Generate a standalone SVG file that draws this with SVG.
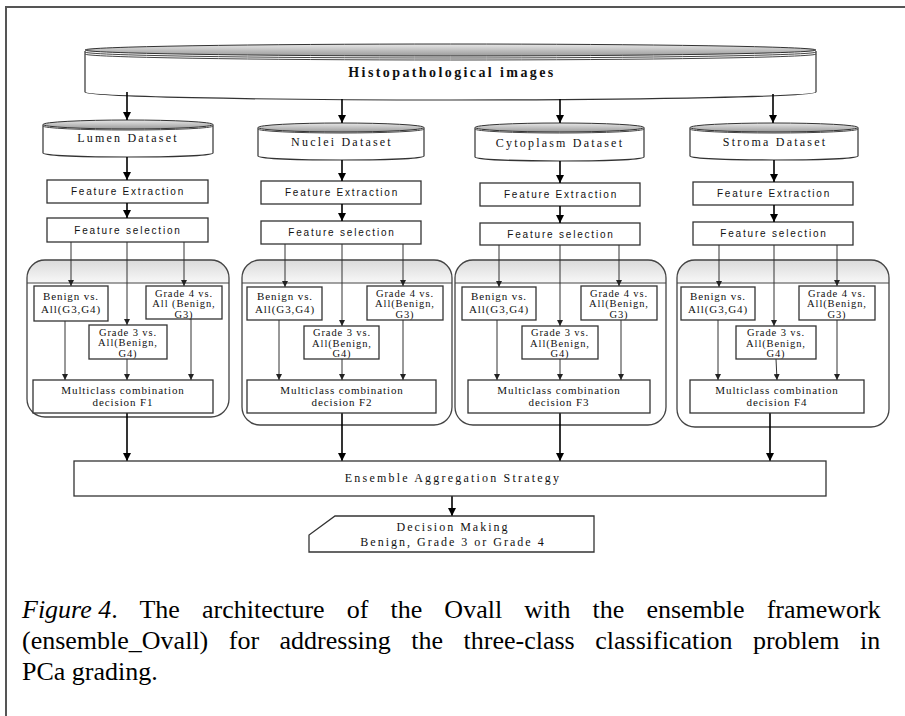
<svg xmlns="http://www.w3.org/2000/svg" width="905" height="716" viewBox="0 0 905 716">
<style>
.cb{fill:#fff;stroke:#333;stroke-width:1.2}
.ct{fill:url(#gTop);stroke:#333;stroke-width:1}
.lip{fill:none;stroke:#444;stroke-width:1}
.box{fill:#fff;stroke:#333;stroke-width:1.3}
.pan{fill:none;stroke:#444;stroke-width:1.3}
.hdr{fill:url(#gHdr);stroke:none}
.hl{stroke:#444;stroke-width:1}
.serif{font-family:"Liberation Serif","Times New Roman",serif;fill:#111}
.sans{font-family:"Liberation Sans",Arial,sans-serif;fill:#111}
.ds{font-size:12px;letter-spacing:2.2px}
.fe{font-size:10px;letter-spacing:1.8px}
.bt{font-size:11px;letter-spacing:0.9px}
.bt3{font-size:10.5px;letter-spacing:0.9px}
.arr{stroke:#000;stroke-width:1.6;fill:none;marker-end:url(#ah)}
.thin{stroke:#333;stroke-width:1;fill:none;marker-end:url(#ah2)}
.cap{font-family:"Liberation Serif","Times New Roman",serif;font-size:26px;fill:#000}
</style>
<defs>
<linearGradient id="gTop" x1="0" y1="0" x2="0" y2="1">
<stop offset="0" stop-color="#e8e8e8"/><stop offset="1" stop-color="#9a9a9a"/>
</linearGradient>
<linearGradient id="gHdr" x1="0" y1="0" x2="0" y2="1">
<stop offset="0" stop-color="#dadada"/><stop offset="1" stop-color="#f8f8f8"/>
</linearGradient>
<marker id="ah" markerUnits="userSpaceOnUse" markerWidth="8" markerHeight="8" refX="8" refY="4" orient="auto">
<path d="M0,0 L8,4 L0,8 Z" fill="#000"/>
</marker>
<marker id="ah2" markerUnits="userSpaceOnUse" markerWidth="6" markerHeight="6" refX="6" refY="3" orient="auto">
<path d="M0,0 L6,3 L0,6 Z" fill="#222"/>
</marker>
</defs>
<rect x="0" y="0" width="905" height="716" fill="#fff"/>
<path d="M6,716 L6,7 L905,7" fill="none" stroke="#555" stroke-width="2"/>

<g id="histo">
<path class="cb" d="M85,51 L85,92 A365.5,8 0 0 0 816,92 L816,51"/>
<ellipse class="ct" cx="450.5" cy="50" rx="365.5" ry="6"/>
<path class="lip" d="M85,52 A365.5,6 0 0 0 816,52"/>
<path class="lip" d="M85,54 A365.5,6 0 0 0 816,54"/>
<text class="serif" x="452" y="77" font-size="14" font-weight="bold" letter-spacing="2.4" text-anchor="middle">Histopathological images</text>
</g>

<g id="lumen-dataset">
<path class="cb" d="M43,125 L43,153 A85,4 0 0 0 213,153 L213,125"/>
<ellipse class="ct" cx="128" cy="124.5" rx="85" ry="4.5"/>
<path class="lip" d="M43,126 A85,4 0 0 0 213,126"/>
<text class="serif ds" x="128" y="142" text-anchor="middle">Lumen Dataset</text>
</g>
<g id="nuclei-dataset">
<path class="cb" d="M258,128 L258,156 A83,4 0 0 0 424,156 L424,128"/>
<ellipse class="ct" cx="341" cy="127.5" rx="83" ry="4.5"/>
<path class="lip" d="M258,129 A83,4 0 0 0 424,129"/>
<text class="serif ds" x="342" y="146" text-anchor="middle">Nuclei Dataset</text>
</g>
<g id="cytoplasm-dataset">
<path class="cb" d="M475,128 L475,157 A84.5,4 0 0 0 644,157 L644,128"/>
<ellipse class="ct" cx="559.5" cy="127.5" rx="84.5" ry="4.5"/>
<path class="lip" d="M475,129 A84.5,4 0 0 0 644,129"/>
<text class="serif ds" x="560" y="147" text-anchor="middle">Cytoplasm Dataset</text>
</g>
<g id="stroma-dataset">
<path class="cb" d="M690,128 L690,156 A84,4 0 0 0 858,156 L858,128"/>
<ellipse class="ct" cx="774" cy="127.5" rx="84" ry="4.5"/>
<path class="lip" d="M690,129 A84,4 0 0 0 858,129"/>
<text class="serif ds" x="775" y="146" text-anchor="middle">Stroma Dataset</text>
</g>

<g id="fe-1"><rect class="box" x="47" y="180" width="161" height="23"/><text class="sans fe" x="128" y="195" text-anchor="middle">Feature Extraction</text></g>
<g id="fs-1"><rect class="box" x="47" y="218" width="161" height="24"/><text class="sans fe" x="128" y="234" text-anchor="middle">Feature selection</text></g>
<g id="fe-2"><rect class="box" x="261" y="181" width="160" height="23"/><text class="sans fe" x="342" y="196" text-anchor="middle">Feature Extraction</text></g>
<g id="fs-2"><rect class="box" x="261" y="221" width="160" height="23"/><text class="sans fe" x="342" y="236" text-anchor="middle">Feature selection</text></g>
<g id="fe-3"><rect class="box" x="480" y="183" width="160" height="23"/><text class="sans fe" x="561" y="198" text-anchor="middle">Feature Extraction</text></g>
<g id="fs-3"><rect class="box" x="480" y="223" width="160" height="22"/><text class="sans fe" x="561" y="238" text-anchor="middle">Feature selection</text></g>
<g id="fe-4"><rect class="box" x="693" y="182" width="160" height="23"/><text class="sans fe" x="774" y="197" text-anchor="middle">Feature Extraction</text></g>
<g id="fs-4"><rect class="box" x="693" y="222" width="160" height="23"/><text class="sans fe" x="774" y="237" text-anchor="middle">Feature selection</text></g>

<g id="panel-1">
<path class="hdr" d="M27,283 L27,278 A18,18 0 0 1 45,260 L211,260 A18,18 0 0 1 229,278 L229,283 Z"/>
<rect class="pan" x="27" y="260" width="202" height="157" rx="18" ry="18"/>
<line class="hl" x1="27" y1="283" x2="229" y2="283"/>
</g>
<g id="panel-2">
<path class="hdr" d="M242,283 L242,278 A18,18 0 0 1 260,260 L434,260 A18,18 0 0 1 452,278 L452,283 Z"/>
<rect class="pan" x="242" y="260" width="210" height="165" rx="18" ry="18"/>
<line class="hl" x1="242" y1="283" x2="452" y2="283"/>
</g>
<g id="panel-3">
<path class="hdr" d="M455,283 L455,278 A18,18 0 0 1 473,260 L648,260 A18,18 0 0 1 666,278 L666,283 Z"/>
<rect class="pan" x="455" y="260" width="211" height="165" rx="18" ry="18"/>
<line class="hl" x1="455" y1="283" x2="666" y2="283"/>
</g>
<g id="panel-4">
<path class="hdr" d="M677,283 L677,278 A18,18 0 0 1 695,260 L871,260 A18,18 0 0 1 889,278 L889,283 Z"/>
<rect class="pan" x="677" y="260" width="212" height="167" rx="18" ry="18"/>
<line class="hl" x1="677" y1="283" x2="889" y2="283"/>
</g>

<g id="connectors">
<line class="arr" x1="127" y1="92" x2="127" y2="120"/>
<line class="arr" x1="342" y1="99" x2="342" y2="123"/>
<line class="arr" x1="560" y1="99" x2="560" y2="123"/>
<line class="arr" x1="773" y1="94" x2="773" y2="123"/>
<line class="arr" x1="127" y1="157" x2="127" y2="180"/>
<line class="arr" x1="342" y1="160" x2="342" y2="181"/>
<line class="arr" x1="560" y1="161" x2="560" y2="183"/>
<line class="arr" x1="774" y1="160" x2="774" y2="182"/>
<line class="arr" x1="127" y1="203" x2="127" y2="218"/>
<line class="arr" x1="342" y1="204" x2="342" y2="221"/>
<line class="arr" x1="560" y1="206" x2="560" y2="223"/>
<line class="arr" x1="774" y1="205" x2="774" y2="222"/>
<line class="thin" x1="71" y1="242" x2="71" y2="286"/>
<line class="thin" x1="127" y1="242" x2="127" y2="325"/>
<line class="thin" x1="184" y1="242" x2="184" y2="286"/>
<line class="thin" x1="285" y1="244" x2="285" y2="287"/>
<line class="thin" x1="342" y1="244" x2="342" y2="326"/>
<line class="thin" x1="403" y1="244" x2="403" y2="286"/>
<line class="thin" x1="499" y1="245" x2="499" y2="287"/>
<line class="thin" x1="560" y1="245" x2="560" y2="326"/>
<line class="thin" x1="619" y1="245" x2="619" y2="286"/>
<line class="thin" x1="719" y1="245" x2="719" y2="287"/>
<line class="thin" x1="774" y1="245" x2="774" y2="326"/>
<line class="thin" x1="837" y1="245" x2="837" y2="286"/>
<line class="thin" x1="65" y1="321" x2="65" y2="380"/>
<line class="thin" x1="127" y1="359" x2="127" y2="380"/>
<line class="thin" x1="191" y1="319" x2="191" y2="380"/>
<line class="thin" x1="279" y1="320" x2="279" y2="380"/>
<line class="thin" x1="342" y1="359" x2="342" y2="380"/>
<line class="thin" x1="403" y1="320" x2="403" y2="380"/>
<line class="thin" x1="497" y1="320" x2="497" y2="380"/>
<line class="thin" x1="560" y1="359" x2="560" y2="380"/>
<line class="thin" x1="621" y1="320" x2="621" y2="380"/>
<line class="thin" x1="718" y1="320" x2="718" y2="380"/>
<line class="thin" x1="776" y1="359" x2="777" y2="380"/>
<line class="thin" x1="837" y1="320" x2="837" y2="380"/>
<line class="arr" x1="127" y1="413" x2="127" y2="461"/>
<line class="arr" x1="342" y1="413" x2="342" y2="461"/>
<line class="arr" x1="560" y1="413" x2="560" y2="461"/>
<line class="arr" x1="770" y1="413" x2="770" y2="461"/>
<line class="arr" x1="452" y1="496" x2="452" y2="516"/>
</g>

<g id="benign-1"><rect class="box" x="34" y="286" width="74" height="35"/><text class="serif bt" text-anchor="middle"><tspan x="71" y="300">Benign vs.</tspan><tspan x="71" y="313">All(G3,G4)</tspan></text></g>
<g id="grade4-1"><rect class="box" x="146" y="286" width="76" height="33"/><text class="serif bt3" text-anchor="middle"><tspan x="184" y="296.5">Grade 4 vs.</tspan><tspan x="184" y="307">All (Benign,</tspan><tspan x="184" y="317.5">G3)</tspan></text></g>
<g id="grade3-1"><rect class="box" x="89" y="325" width="78" height="34"/><text class="serif bt3" text-anchor="middle"><tspan x="128" y="335.5">Grade 3 vs.</tspan><tspan x="128" y="346">All(Benign,</tspan><tspan x="128" y="356.5">G4)</tspan></text></g>
<g id="multi-1"><rect class="box" x="33" y="380" width="180" height="33"/><text class="serif bt" text-anchor="middle"><tspan x="123" y="394">Multiclass combination</tspan><tspan x="123" y="406">decision F1</tspan></text></g>

<g id="benign-2"><rect class="box" x="247" y="287" width="75" height="33"/><text class="serif bt" text-anchor="middle"><tspan x="285" y="300">Benign vs.</tspan><tspan x="285" y="313">All(G3,G4)</tspan></text></g>
<g id="grade4-2"><rect class="box" x="367" y="286" width="76" height="34"/><text class="serif bt3" text-anchor="middle"><tspan x="405" y="296.5">Grade 4 vs.</tspan><tspan x="405" y="307">All(Benign,</tspan><tspan x="405" y="317.5">G3)</tspan></text></g>
<g id="grade3-2"><rect class="box" x="304" y="326" width="75" height="33"/><text class="serif bt3" text-anchor="middle"><tspan x="342" y="336">Grade 3 vs.</tspan><tspan x="342" y="346.5">All(Benign,</tspan><tspan x="342" y="357">G4)</tspan></text></g>
<g id="multi-2"><rect class="box" x="247" y="380" width="189" height="33"/><text class="serif bt" text-anchor="middle"><tspan x="342" y="394">Multiclass combination</tspan><tspan x="342" y="406">decision F2</tspan></text></g>

<g id="benign-3"><rect class="box" x="462" y="287" width="74" height="33"/><text class="serif bt" text-anchor="middle"><tspan x="499" y="300">Benign vs.</tspan><tspan x="499" y="313">All(G3,G4)</tspan></text></g>
<g id="grade4-3"><rect class="box" x="581" y="286" width="76" height="34"/><text class="serif bt3" text-anchor="middle"><tspan x="619" y="296.5">Grade 4 vs.</tspan><tspan x="619" y="307">All(Benign,</tspan><tspan x="619" y="317.5">G3)</tspan></text></g>
<g id="grade3-3"><rect class="box" x="522" y="326" width="76" height="33"/><text class="serif bt3" text-anchor="middle"><tspan x="560" y="336">Grade 3 vs.</tspan><tspan x="560" y="346.5">All(Benign,</tspan><tspan x="560" y="357">G4)</tspan></text></g>
<g id="multi-3"><rect class="box" x="468" y="380" width="182" height="33"/><text class="serif bt" text-anchor="middle"><tspan x="559" y="394">Multiclass combination</tspan><tspan x="559" y="406">decision F3</tspan></text></g>

<g id="benign-4"><rect class="box" x="681" y="287" width="74" height="33"/><text class="serif bt" text-anchor="middle"><tspan x="718" y="300">Benign vs.</tspan><tspan x="718" y="313">All(G3,G4)</tspan></text></g>
<g id="grade4-4"><rect class="box" x="799" y="286" width="76" height="34"/><text class="serif bt3" text-anchor="middle"><tspan x="837" y="296.5">Grade 4 vs.</tspan><tspan x="837" y="307">All(Benign,</tspan><tspan x="837" y="317.5">G3)</tspan></text></g>
<g id="grade3-4"><rect class="box" x="736" y="326" width="80" height="33"/><text class="serif bt3" text-anchor="middle"><tspan x="776" y="336">Grade 3 vs.</tspan><tspan x="776" y="346.5">All(Benign,</tspan><tspan x="776" y="357">G4)</tspan></text></g>
<g id="multi-4"><rect class="box" x="690" y="380" width="174" height="33"/><text class="serif bt" text-anchor="middle"><tspan x="777" y="394">Multiclass combination</tspan><tspan x="777" y="406">decision F4</tspan></text></g>

<g id="ensemble"><rect class="box" x="74" y="461" width="752" height="35"/><text class="serif" x="453" y="482" font-size="12" letter-spacing="2.2" text-anchor="middle">Ensemble Aggregation Strategy</text></g>
<g id="decision"><path class="box" d="M335,516 L594,516 L594,552 L309,552 L309,535 Z"/><text class="serif" font-size="12" letter-spacing="2" text-anchor="middle"><tspan x="453" y="531">Decision Making</tspan><tspan x="453" y="546">Benign, Grade 3 or Grade 4</tspan></text></g>

<g id="caption">
<text class="cap" x="22" y="618"><tspan font-style="italic">Figure 4</tspan><tspan>.</tspan><tspan word-spacing="15.6"> The architecture of the Ovall with the ensemble framework</tspan></text>
<text class="cap" x="22" y="649" word-spacing="14">(ensemble_Ovall) for addressing the three-class classification problem in</text>
<text class="cap" x="22" y="680">PCa grading.</text>
</g>
</svg>
